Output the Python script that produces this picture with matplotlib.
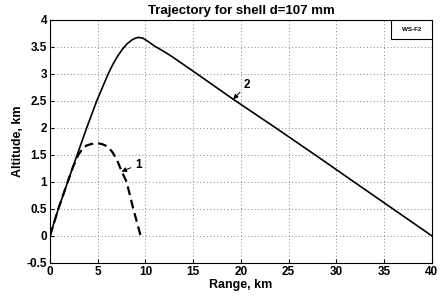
"""
Shell trajectory plot, d=107 mm
"""

import matplotlib
matplotlib.use('Agg')
import matplotlib.pyplot as plt
from matplotlib.patches import Rectangle

# Trajectory 2 (solid)
range_2 = [0, 0.88, 1.86, 2.85, 3.85, 4.9, 6.1, 6.6, 7.1, 7.6, 8.1,
           8.6, 9.0, 9.35, 9.75, 10.2, 11.0, 11.8, 12.7, 15.0, 19.2,
           23.65, 28.1, 32.0, 36.0, 40.0]
alt_2 = [0, 0.5, 1.0, 1.5, 2.0, 2.5, 3.0, 3.18, 3.33, 3.46, 3.56,
         3.63, 3.665, 3.675, 3.66, 3.61, 3.51, 3.43, 3.33, 3.05, 2.53,
         2.0, 1.46, 0.98, 0.49, 0]

# Trajectory 1 (dashed)
range_1 = [0, 0.88, 1.86, 2.4, 2.97, 3.35, 3.8, 4.3, 4.7, 5.06, 5.45,
           5.85, 6.2, 6.55, 6.85, 7.15, 7.5, 8.03, 8.73, 9.5]
alt_1 = [0, 0.5, 1.0, 1.27, 1.5, 1.6, 1.67, 1.70, 1.712, 1.713, 1.70,
         1.67, 1.62, 1.55, 1.46, 1.35, 1.2, 1.0, 0.5, 0]

x_ticks = [0, 5, 10, 15, 20, 25, 30, 35, 40]
y_ticks = [-0.5, 0, 0.5, 1, 1.5, 2, 2.5, 3, 3.5, 4]
y_labels = ['-0.5', '0', '0.5', '1', '1.5', '2', '2.5', '3', '3.5', '4']


def main():
    plt.rcParams['font.family'] = ['Liberation Sans', 'DejaVu Sans']
    plt.rcParams['font.weight'] = 'bold'

    fig = plt.figure(figsize=(4.42, 2.97), dpi=100)
    ax = fig.add_axes([0.113, 0.115, 0.864, 0.818])

    ax.plot(range_2, alt_2, color='black', linewidth=1.2)
    ax.plot(range_1, alt_1, color='black', linewidth=1.6,
            linestyle=(0, (4, 2.2)))

    # Curve labels with small arrows
    arrow = dict(arrowstyle='-|>', color='black', lw=0.7,
                 mutation_scale=7, shrinkA=1, shrinkB=0)
    ax.annotate('1', xy=(7.5, 1.19), xytext=(8.9, 1.32), fontsize=8.5,
                va='center', ha='left', arrowprops=arrow)
    ax.annotate('2', xy=(19.2, 2.53), xytext=(20.3, 2.8), fontsize=8.5,
                va='center', ha='left', arrowprops=arrow)

    # Small legend box at the top right corner
    ax.add_patch(Rectangle((0.892, 0.923), 0.108, 0.077,
                           transform=ax.transAxes, facecolor='white',
                           edgecolor='black', linewidth=0.8, zorder=5))
    ax.text(0.946, 0.961, 'WS-F2', transform=ax.transAxes, fontsize=4.5,
            ha='center', va='center', zorder=6)

    ax.set_xlim(0, 40)
    ax.set_ylim(-0.5, 4)
    ax.set_xticks(x_ticks)
    ax.set_yticks(y_ticks)
    ax.set_yticklabels(y_labels)
    ax.tick_params(direction='in', length=3, labelsize=8.5, pad=2)
    ax.grid(True, color='#888888', linestyle=(0, (1, 2.5)), linewidth=0.7)

    ax.set_xlabel('Range, km', fontsize=9, fontweight='bold', labelpad=1)
    ax.set_ylabel('Altitude, km', fontsize=9, fontweight='bold', labelpad=2)
    ax.set_title('Trajectory for shell d=107 mm', fontsize=9.5,
                 fontweight='bold', pad=4)

    fig.savefig('out.png', dpi=100)


if __name__ == '__main__':
    main()
